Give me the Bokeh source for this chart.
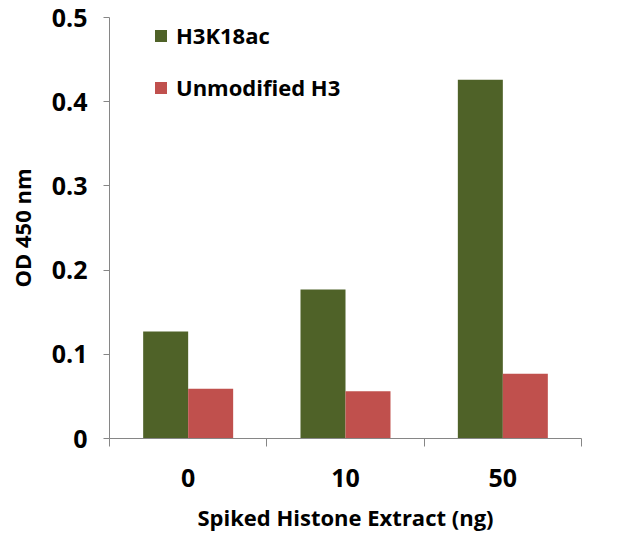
import numpy as np
from bokeh.plotting import figure
from bokeh.models import Range1d, FixedTicker, NumeralTickFormatter, Legend, LegendItem, ColumnDataSource
from bokeh.embed import file_html
from bokeh.resources import INLINE

categories = ["0", "10", "50"]
series_names = ["H3K18ac", "Unmodified H3"]
h3k18ac = [0.127, 0.177, 0.426]
unmodified = [0.059, 0.056, 0.077]
y_ticks = [0, 0.1, 0.2, 0.3, 0.4, 0.5]
colors = ["#4F6228", "#C0504D"]

FONT = "Open Sans"
AXIS_COLOR = "#868686"

p = figure(width=626, height=535, output_backend="svg", toolbar_location=None,
           x_range=Range1d(0, len(categories)), y_range=Range1d(0, 0.5),
           min_border_left=109, min_border_right=45, min_border_top=17, min_border_bottom=97)
p.outline_line_color = None
p.xgrid.visible = False
p.ygrid.visible = False

centers = np.arange(len(categories)) + 0.5
bw = 0.286
src1 = ColumnDataSource(dict(x=centers - bw / 2, top=h3k18ac))
src2 = ColumnDataSource(dict(x=centers + bw / 2, top=unmodified))
r1 = p.vbar(x="x", top="top", width=bw, source=src1, fill_color=colors[0], line_color=None)
r2 = p.vbar(x="x", top="top", width=bw, source=src2, fill_color=colors[1], line_color=None)

# x axis
xa = p.xaxis[0]
xa.ticker = FixedTicker(ticks=list(centers), minor_ticks=list(np.arange(len(categories) + 1)))
xa.major_label_overrides = {float(c): lab for c, lab in zip(centers, categories)}
xa.major_tick_line_color = None
xa.major_tick_out = 0
xa.major_tick_in = 0
xa.minor_tick_line_color = AXIS_COLOR
xa.minor_tick_out = 8
xa.minor_tick_in = 0
xa.axis_line_color = AXIS_COLOR
xa.major_label_standoff = 22
xa.major_label_text_font = FONT
xa.major_label_text_font_style = "bold"
xa.major_label_text_font_size = "25px"
xa.major_label_text_color = "black"
xa.axis_label = "Spiked Histone Extract (ng)"
xa.axis_label_text_font = FONT
xa.axis_label_text_font_style = "bold"
xa.axis_label_text_font_size = "22px"
xa.axis_label_text_color = "black"
xa.axis_label_standoff = 12

# y axis
ya = p.yaxis[0]
ya.ticker = FixedTicker(ticks=y_ticks)
ya.formatter = NumeralTickFormatter(format="0.[0]")
ya.major_tick_line_color = AXIS_COLOR
ya.major_tick_out = 6
ya.major_tick_in = 0
ya.minor_tick_line_color = None
ya.axis_line_color = AXIS_COLOR
ya.major_label_standoff = 16
ya.major_label_text_font = FONT
ya.major_label_text_font_style = "bold"
ya.major_label_text_font_size = "25px"
ya.major_label_text_color = "black"
ya.axis_label = "OD 450 nm"
ya.axis_label_text_font = FONT
ya.axis_label_text_font_style = "bold"
ya.axis_label_text_font_size = "22px"
ya.axis_label_text_color = "black"
ya.axis_label_standoff = 12

legend = Legend(items=[LegendItem(label=series_names[0], renderers=[r1]),
                       LegendItem(label=series_names[1], renderers=[r2])],
                location=(44, 336), orientation="vertical",
                border_line_color=None, background_fill_alpha=0,
                padding=0, margin=0, spacing=22,
                glyph_width=15, glyph_height=15, label_height=26,
                label_standoff=8,
                label_text_font=FONT, label_text_font_style="bold",
                label_text_font_size="22px", label_text_color="black")
p.add_layout(legend)

open("out.html", "w").write(file_html(p, INLINE))
